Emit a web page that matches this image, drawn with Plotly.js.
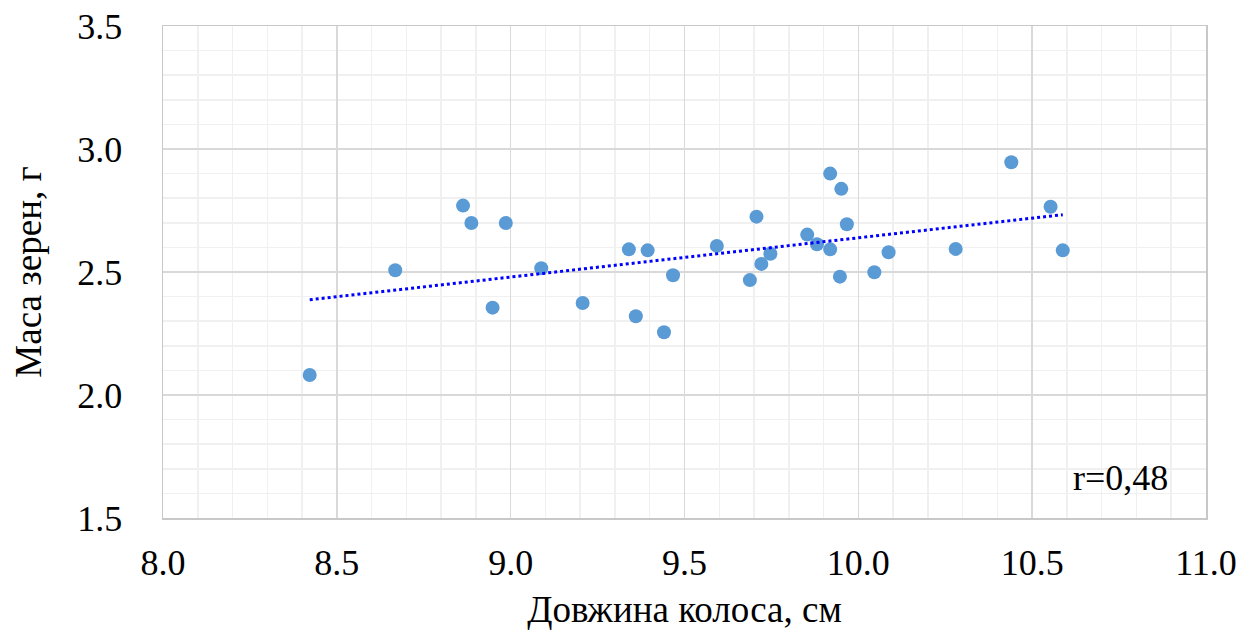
<!DOCTYPE html>
<html>
<head>
<meta charset="utf-8">
<script src="https://cdn.plot.ly/plotly-3.0.1.min.js"></script>
<style>html,body{margin:0;padding:0;background:#fff;}#chart{width:1244px;height:631px;}</style>
</head>
<body>
<div id="chart"></div>
<script>
var spikeLength = [8.422, 8.668, 8.863, 8.887, 8.986, 8.948, 9.207, 9.088,
  9.340, 9.394, 9.467, 9.360, 9.441, 9.593, 9.707, 9.747, 9.721, 9.688,
  9.853, 9.881, 9.919, 9.951, 9.967, 9.919, 9.947, 10.046, 10.087,
  10.280, 10.440, 10.553, 10.588];
var grainMass = [2.081, 2.507, 2.770, 2.699, 2.699, 2.355, 2.374, 2.515,
  2.592, 2.588, 2.487, 2.320, 2.255, 2.606, 2.725, 2.574, 2.533, 2.467,
  2.652, 2.613, 2.900, 2.838, 2.694, 2.592, 2.481, 2.499, 2.580,
  2.594, 2.946, 2.765, 2.588];
var xTitle = 'Довжина колоса, см';
var yTitle = 'Маса зерен, г';
var rLabel = 'r=0,48';

// linear trendline (least squares) from the data
var n = spikeLength.length, sx = 0, sy = 0, sxx = 0, sxy = 0;
for (var i = 0; i < n; i++) { sx += spikeLength[i]; sy += grainMass[i]; sxx += spikeLength[i]*spikeLength[i]; sxy += spikeLength[i]*grainMass[i]; }
var slope = (n*sxy - sx*sy) / (n*sxx - sx*sx);
var icpt = (sy - slope*sx) / n;
var xmin = Math.min.apply(null, spikeLength), xmax = Math.max.apply(null, spikeLength);
var trendX = [xmin, xmax];
var trendY = trendX.map(function(v){ return icpt + slope*v; });

var font = 'Liberation Serif';
var data = [
  {x: spikeLength, y: grainMass, type: 'scatter', mode: 'markers',
   marker: {color: '#5b9bd5', size: 14}, hoverinfo: 'x+y'},
  {x: trendX, y: trendY, type: 'scatter', mode: 'lines',
   line: {color: '#0000ff', width: 3, dash: 'dot'}, hoverinfo: 'skip'}
];
var layout = {
  width: 1244, height: 631,
  margin: {l: 163, r: 38, t: 26, b: 113},
  paper_bgcolor: '#fff', plot_bgcolor: '#fff',
  showlegend: false,
  font: {family: font, size: 36, color: '#000'},
  xaxis: {
    range: [8, 11], dtick: 0.5, tick0: 8, tickformat: '.1f',
    showgrid: true, gridcolor: '#d9d9d9', gridwidth: 1.5,
    minor: {dtick: 0.1, showgrid: true, gridcolor: '#f0f0f0', gridwidth: 1.5},
    showline: true, linecolor: '#c8c8c8', linewidth: 1.5, mirror: true,
    zeroline: false, ticks: '', ticklabelstandoff: 12,
    tickfont: {family: font, size: 36, color: '#000'},
    title: {text: xTitle, font: {family: font, size: 37, color: '#000'}, standoff: 14}
  },
  yaxis: {
    range: [1.5, 3.5], dtick: 0.5, tick0: 1.5, tickformat: '.1f',
    showgrid: true, gridcolor: '#d9d9d9', gridwidth: 1.5,
    minor: {dtick: 0.1, showgrid: true, gridcolor: '#f0f0f0', gridwidth: 1.5},
    showline: true, linecolor: '#c8c8c8', linewidth: 1.5, mirror: true,
    zeroline: false, ticks: '', ticklabelstandoff: 32,
    tickfont: {family: font, size: 36, color: '#000'},
    title: {text: yTitle, font: {family: font, size: 37, color: '#000'}, standoff: 24}
  },
  annotations: [{
    text: rLabel, xref: 'x', yref: 'y', x: 10.755, y: 1.661,
    showarrow: false, font: {family: font, size: 36, color: '#000'}
  }]
};
Plotly.newPlot('chart', data, layout, {displayModeBar: false, staticPlot: true});
</script>
</body>
</html>
